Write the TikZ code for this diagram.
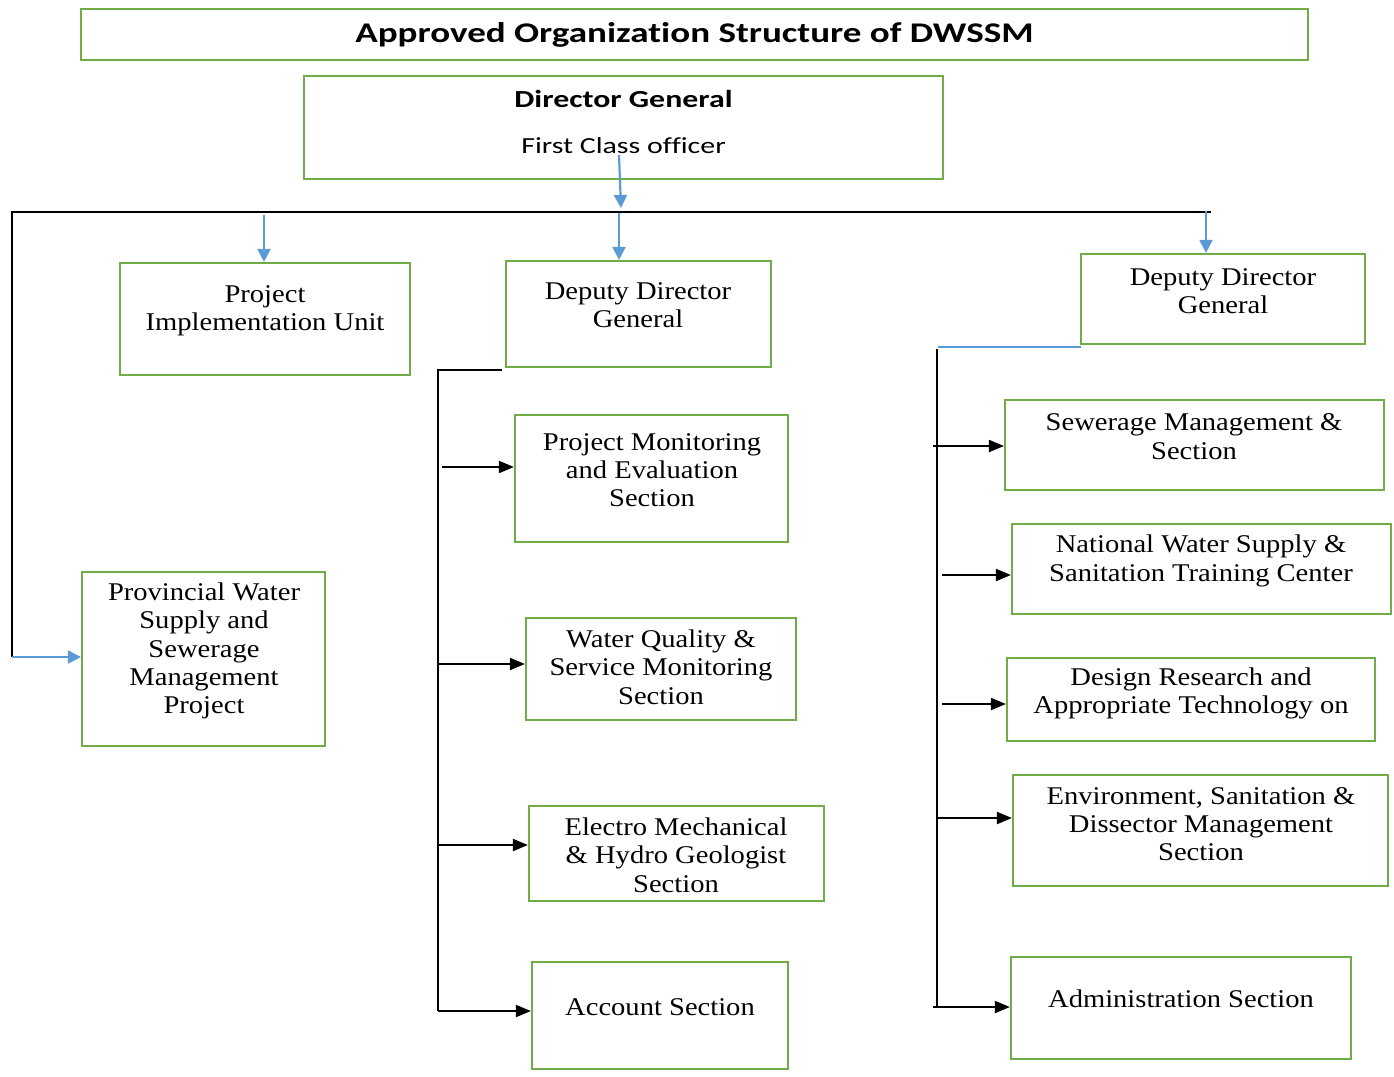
\documentclass[tikz,border=0pt]{standalone}
\usepackage{fontspec}
\setmainfont{Liberation Serif}[FakeStretch=1.12]
\newfontfamily\calfont{Carlito}[FakeStretch=1.3,Ligatures=NoCommon]
\usetikzlibrary{arrows.meta}
\definecolor{gbox}{HTML}{70AD47}
\definecolor{barrow}{HTML}{5B9BD5}
\begin{document}
\begin{tikzpicture}[x=1pt,y=-1pt,
  box/.style={draw=gbox,line width=2.2pt,minimum width=#1,inner sep=0pt},
  txt/.style={align=center,inner sep=0pt,font=\fontsize{25.5}{28.3}\selectfont},
  conn/.style={draw=black,line width=1.2pt},
  barr/.style={draw=barrow,line width=2.2pt,-{Triangle[length=13pt,width=13pt]}},
  karr/.style={draw=black,line width=2pt,-{Triangle[length=15pt,width=12pt]}}]
\useasboundingbox (0,0) rectangle (1394,1076);
% boxes
\node[box=1227pt,minimum height=51pt] (title) at (694.5,34.5) {};
\node[font=\calfont\bfseries\fontsize{28.5}{32}\selectfont,inner sep=0pt] (titlet) at (694.5,35) {Approved Organization Structure of DWSSM};
\node[box=639pt,minimum height=103pt] (dg) at (623.5,127.5) {};
\node[font=\calfont\bfseries\fontsize{24.5}{30}\selectfont,inner sep=0pt] (dgt1) at (623.5,99) {Director General};
\node[font=\calfont\fontsize{23}{30}\selectfont,inner sep=0pt] (dgt2) at (623.5,146) {First Class officer};
\node[box=290pt,minimum height=112pt] (piu) at (265,319) {};
\node[txt] (piut) at (265,311) {Project\\Implementation Unit};
\node[box=265pt,minimum height=106pt] (ddga) at (638.5,314) {};
\node[txt] (ddgat) at (638,305.5) {Deputy Director\\General};
\node[box=284pt,minimum height=90pt] (ddgb) at (1223,299) {};
\node[txt] (ddgbt) at (1223,291.5) {Deputy Director\\General};
\node[box=243pt,minimum height=174pt] (prov) at (203.5,659) {};
\node[txt] (provt) at (204,651) {Provincial Water\\Supply and\\Sewerage\\Management\\Project};
% middle column
\node[box=273pt,minimum height=127pt] (pme) at (651.5,478.5) {};
\node[txt] (pmet) at (652,470) {Project Monitoring\\and Evaluation\\Section};
\node[box=270pt,minimum height=102pt] (wq) at (661,669) {};
\node[txt] (wqt) at (661,667) {Water Quality \&\\Service Monitoring\\Section};
\node[box=295pt,minimum height=95pt] (em) at (676.5,853.5) {};
\node[txt] (emt) at (676,855) {Electro Mechanical\\\& Hydro Geologist\\Section};
\node[box=256pt,minimum height=107pt] (acc) at (660,1015.5) {};
\node[txt] (acct) at (660,1007) {Account Section};
% right column
\node[box=379pt,minimum height=90pt] (sew) at (1194.5,445) {};
\node[txt] (sewt) at (1194,436.5) {Sewerage Management \&\\Section};
\node[box=379pt,minimum height=90pt] (nws) at (1201.5,569) {};
\node[txt] (nwst) at (1201,561) {National Water Supply \&\\Sanitation Training Center};
\node[box=368pt,minimum height=83pt] (des) at (1191,699.5) {};
\node[txt] (dest) at (1191,693.5) {Design Research and\\Appropriate Technology on};
\node[box=375pt,minimum height=111pt] (env) at (1200.5,830.5) {};
\node[txt] (envt) at (1201,824) {Environment, Sanitation \&\\Dissector Management\\Section};
\node[box=340pt,minimum height=102pt] (adm) at (1181,1008) {};
\node[txt] (admt) at (1181,999) {Administration Section};
% coordinates
\coordinate (busL) at (12,212);
\coordinate (busR) at (1211,212);
\coordinate (busP) at (12,657);
\coordinate (dgA) at (619,155);
\coordinate (dgB) at (621,208);
\coordinate (piuA) at (264,215);
\coordinate (ddgaA) at (619,213);
\coordinate (ddgbA) at (1206,211);
\coordinate (mT) at (502,370);
\coordinate (mC) at (438,370);
\coordinate (mB) at (438,1011);
\coordinate (m1) at (442,467);
\coordinate (m2) at (438,664);
\coordinate (m3) at (438,845);
\coordinate (m4) at (438,1011);
\coordinate (rT) at (1081,347);
\coordinate (rC) at (938,347);
\coordinate (rV) at (937,349);
\coordinate (rB) at (937,1007);
\coordinate (r1) at (933,446);
\coordinate (r2) at (942,575);
\coordinate (r3) at (942,704);
\coordinate (r4) at (937,818);
\coordinate (r5) at (933,1007);
% connectors
\draw[conn] (busR) -- (busL) -- (busP);
\draw[barr] (busP) -- (busP -| prov.west);
\draw[barr] (dgA) -- (dgB);
\draw[barr] (piuA) -- (piuA |- piu.north);
\draw[barr] (ddgaA) -- (ddgaA |- ddga.north);
\draw[barr] (ddgbA) -- (ddgbA |- ddgb.north);
\draw[conn] (mT) -- (mC) -- (mB);
\draw[karr] (m1) -- (m1 -| pme.west);
\draw[karr] (m2) -- (m2 -| wq.west);
\draw[karr] (m3) -- (m3 -| em.west);
\draw[karr] (m4) -- (m4 -| acc.west);
\draw[draw=barrow,line width=1.2pt] (rT) -- (rC);
\draw[conn] (rV) -- (rB);
\draw[karr] (r1) -- (r1 -| sew.west);
\draw[karr] (r2) -- (r2 -| nws.west);
\draw[karr] (r3) -- (r3 -| des.west);
\draw[karr] (r4) -- (r4 -| env.west);
\draw[karr] (r5) -- (r5 -| adm.west);
\end{tikzpicture}
\end{document}
